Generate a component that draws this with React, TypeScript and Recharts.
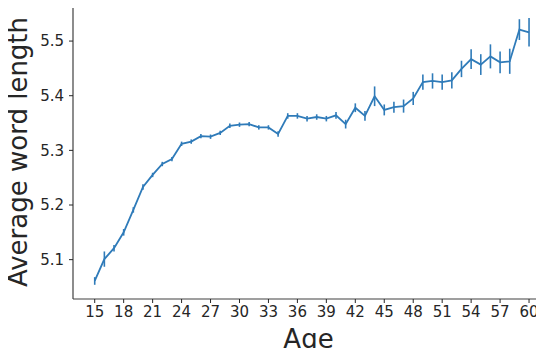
import React from 'react';
import { ComposedChart, Line, XAxis, YAxis, ErrorBar } from 'recharts';

const ages = [15, 16, 17, 18, 19, 20, 21, 22, 23, 24, 25, 26, 27, 28, 29, 30, 31, 32, 33, 34, 35, 36, 37, 38, 39, 40, 41, 42, 43, 44, 45, 46, 47, 48, 49, 50, 51, 52, 53, 54, 55, 56, 57, 58, 59, 60];
const avgWordLength = [5.061, 5.101, 5.121, 5.150, 5.191, 5.233, 5.255, 5.275, 5.284, 5.312, 5.316, 5.326, 5.325, 5.332, 5.345, 5.347, 5.348, 5.342, 5.342, 5.330, 5.363, 5.363, 5.358, 5.361, 5.358, 5.364, 5.348, 5.378, 5.363, 5.399, 5.374, 5.379, 5.381, 5.395, 5.425, 5.427, 5.425, 5.428, 5.449, 5.467, 5.457, 5.472, 5.461, 5.463, 5.521, 5.516];
const errors = [0.007, 0.014, 0.006, 0.006, 0.005, 0.005, 0.004, 0.004, 0.004, 0.004, 0.004, 0.004, 0.004, 0.004, 0.004, 0.004, 0.004, 0.004, 0.004, 0.005, 0.005, 0.005, 0.005, 0.005, 0.005, 0.006, 0.008, 0.008, 0.009, 0.018, 0.010, 0.010, 0.012, 0.012, 0.014, 0.014, 0.014, 0.015, 0.015, 0.018, 0.019, 0.022, 0.020, 0.023, 0.019, 0.026];
const xTicks = [15, 18, 21, 24, 27, 30, 33, 36, 39, 42, 45, 48, 51, 54, 57, 60];
const yTicks = [5.1, 5.2, 5.3, 5.4, 5.5];

const data = ages.map((a, i) => ({ age: a, value: avgWordLength[i], err: errors[i] }));

const COLOR = '#2f7bb9';
const FONT = 'DejaVu Sans';
const TEXT = '#262626';
const X_DOMAIN: [number, number] = [12.75, 61.55];
const Y_MIN = 5.028;
const Y_MAX = 5.566;

export default function App() {
  return (
    <div style={{ position: 'relative', top: -8, left: -8, width: 544, height: 356, marginBottom: -16, background: '#fff' }}>
      <ComposedChart
        width={544}
        height={356}
        data={data}
        accessibilityLayer={false}
        margin={{ top: 4, right: 0, bottom: 0, left: 0 }}
      >
        <XAxis
          xAxisId="top"
          orientation="top"
          dataKey="age"
          type="number"
          domain={X_DOMAIN}
          allowDataOverflow
          height={1}
          tick={false}
          tickLine={false}
          axisLine={{ stroke: '#808080', strokeWidth: 1.6 }}
        />
        <XAxis
          dataKey="age"
          type="number"
          domain={X_DOMAIN}
          ticks={xTicks}
          interval={0}
          allowDataOverflow
          height={57}
          tickSize={4}
          tickMargin={3}
          tick={{ fontFamily: FONT, fontSize: 15, fill: TEXT }}
          tickLine={{ stroke: TEXT, strokeWidth: 1 }}
          axisLine={{ stroke: '#404040', strokeWidth: 1.2 }}
          label={{ value: 'Age', position: 'insideBottom', offset: 8, fontFamily: FONT, fontSize: 26, fill: TEXT }}
        />
        <YAxis
          type="number"
          domain={[Y_MIN, Y_MAX]}
          ticks={yTicks}
          interval={0}
          allowDataOverflow
          width={73}
          tickSize={4}
          tickMargin={5}
          tickFormatter={(v: number) => v.toFixed(1)}
          tick={{ fontFamily: FONT, fontSize: 15, fill: TEXT }}
          tickLine={{ stroke: TEXT, strokeWidth: 1 }}
          axisLine={{ stroke: '#404040', strokeWidth: 1.2 }}
          label={{ value: 'Average word length', angle: -90, position: 'insideLeft', offset: 18, style: { textAnchor: 'middle' }, fontFamily: FONT, fontSize: 26, fill: TEXT }}
        />
        <Line
          type="linear"
          dataKey="value"
          stroke={COLOR}
          strokeWidth={1.8}
          dot={false}
          activeDot={false}
          isAnimationActive={false}
        >
          <ErrorBar dataKey="err" width={0} stroke={COLOR} strokeWidth={1.6} direction="y" isAnimationActive={false} />
        </Line>
      </ComposedChart>
    </div>
  );
}
